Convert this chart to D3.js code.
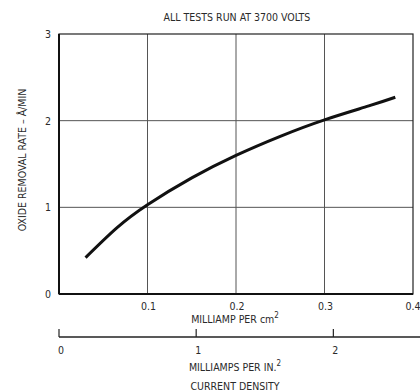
<!DOCTYPE html>
<html>
<head>
<meta charset="utf-8">
<script src="https://cdn.jsdelivr.net/npm/d3@7"></script>
<style>
  body { margin: 0; background: #fff; }
  text { font-family: "Liberation Sans Narrow", "DejaVu Sans Condensed", sans-serif; fill: #2a2a2a; }
</style>
</head>
<body>
<div id="chart"></div>
<script>
// current density (mA/cm^2) vs oxide removal rate (A/min)
var density = [0.03, 0.065, 0.1, 0.15, 0.2, 0.25, 0.3, 0.35, 0.38]
var rate = [0.42, 0.76, 1.03, 1.34, 1.6, 1.82, 2.01, 2.17, 2.27]
var xTicks = [0.1, 0.2, 0.3, 0.4]
var yTicks = [0, 1, 2, 3]
var inchTicks = [0, 1, 2]

var width = 420
var height = 391
var fs = 10.5
// note: don't call this "top", it clashes with window.top
var plot = { left: 59, right: 413, top: 34, bottom: 294 }

var svg = d3.select('#chart').append('svg')
  .attr('width', width)
  .attr('height', height)

var x = d3.scaleLinear().domain([0, 0.4]).range([plot.left, plot.right])
var y = d3.scaleLinear().domain([0, 3]).range([plot.bottom, plot.top])
// 1 in^2 = 6.4516 cm^2
var xIn = d3.scaleLinear().domain([0, 1]).range([x(0), x(1 / 6.4516)])

// grid
svg.append('g').selectAll('line')
  .data(xTicks.slice(0, 3))
  .enter().append('line')
  .attr('x1', d => x(d)).attr('x2', d => x(d))
  .attr('y1', plot.top).attr('y2', plot.bottom)
  .attr('stroke', '#555').attr('stroke-width', 1)

svg.append('g').selectAll('line')
  .data([1, 2])
  .enter().append('line')
  .attr('x1', plot.left).attr('x2', plot.right)
  .attr('y1', d => y(d)).attr('y2', d => y(d))
  .attr('stroke', '#555').attr('stroke-width', 1)

// frame
svg.append('rect')
  .attr('x', plot.left).attr('y', plot.top)
  .attr('width', plot.right - plot.left).attr('height', plot.bottom - plot.top)
  .attr('fill', 'none').attr('stroke', '#222').attr('stroke-width', 1.2)
svg.append('line')
  .attr('x1', plot.left).attr('x2', plot.left)
  .attr('y1', plot.top).attr('y2', plot.bottom)
  .attr('stroke', '#111').attr('stroke-width', 2)
svg.append('line')
  .attr('x1', plot.left).attr('x2', plot.right)
  .attr('y1', plot.bottom).attr('y2', plot.bottom)
  .attr('stroke', '#111').attr('stroke-width', 2)

// curve
var line = d3.line()
  .x(d => x(d))
  .y((d, i) => y(rate[i]))
  .curve(d3.curveNatural)
svg.append('path')
  .attr('d', line(density))
  .attr('fill', 'none')
  .attr('stroke', '#111')
  .attr('stroke-width', 3)

// y tick labels
svg.append('g').selectAll('text')
  .data(yTicks)
  .enter().append('text')
  .attr('x', plot.left - 8)
  .attr('y', d => y(d) + 4)
  .attr('text-anchor', 'end')
  .attr('font-size', fs)
  .text(d => d)

// x tick labels (last one kept inside the page)
svg.append('g').selectAll('text')
  .data(xTicks)
  .enter().append('text')
  .attr('x', d => Math.min(x(d) + 1, width - 7))
  .attr('y', 310)
  .attr('text-anchor', 'middle')
  .attr('font-size', fs)
  .text(d => d.toFixed(1))

var cm = svg.append('text')
  .attr('x', 235).attr('y', 323)
  .attr('text-anchor', 'middle')
  .attr('font-size', fs)
cm.append('tspan').text('MILLIAMP PER cm')
cm.append('tspan').attr('dy', -5).attr('font-size', 8).text('2')

// second axis (per square inch)
var axY = 337
svg.append('line')
  .attr('x1', plot.left).attr('x2', width)
  .attr('y1', axY).attr('y2', axY)
  .attr('stroke', '#222').attr('stroke-width', 1.5)
svg.append('g').selectAll('line')
  .data(inchTicks)
  .enter().append('line')
  .attr('x1', d => xIn(d)).attr('x2', d => xIn(d))
  .attr('y1', axY - 8).attr('y2', axY)
  .attr('stroke', '#222').attr('stroke-width', 1.2)
svg.append('g').selectAll('text')
  .data(inchTicks)
  .enter().append('text')
  .attr('x', d => xIn(d) + 2)
  .attr('y', 354)
  .attr('text-anchor', 'middle')
  .attr('font-size', fs)
  .text(d => d)

var inch = svg.append('text')
  .attr('x', 235).attr('y', 371)
  .attr('text-anchor', 'middle')
  .attr('font-size', fs)
inch.append('tspan').text('MILLIAMPS  PER IN.')
inch.append('tspan').attr('dy', -5).attr('font-size', 8).text('2')

svg.append('text')
  .attr('x', 235).attr('y', 390)
  .attr('text-anchor', 'middle')
  .attr('font-size', fs)
  .text('CURRENT DENSITY')

// title
svg.append('text')
  .attr('x', 237).attr('y', 21)
  .attr('text-anchor', 'middle')
  .attr('font-size', fs)
  .text('ALL TESTS RUN AT 3700 VOLTS')

// y label
svg.append('text')
  .attr('transform', 'translate(26,160) rotate(-90)')
  .attr('text-anchor', 'middle')
  .attr('font-size', fs)
  .text('OXIDE REMOVAL RATE \u2013 \u00C5/MIN')
</script>
</body>
</html>
